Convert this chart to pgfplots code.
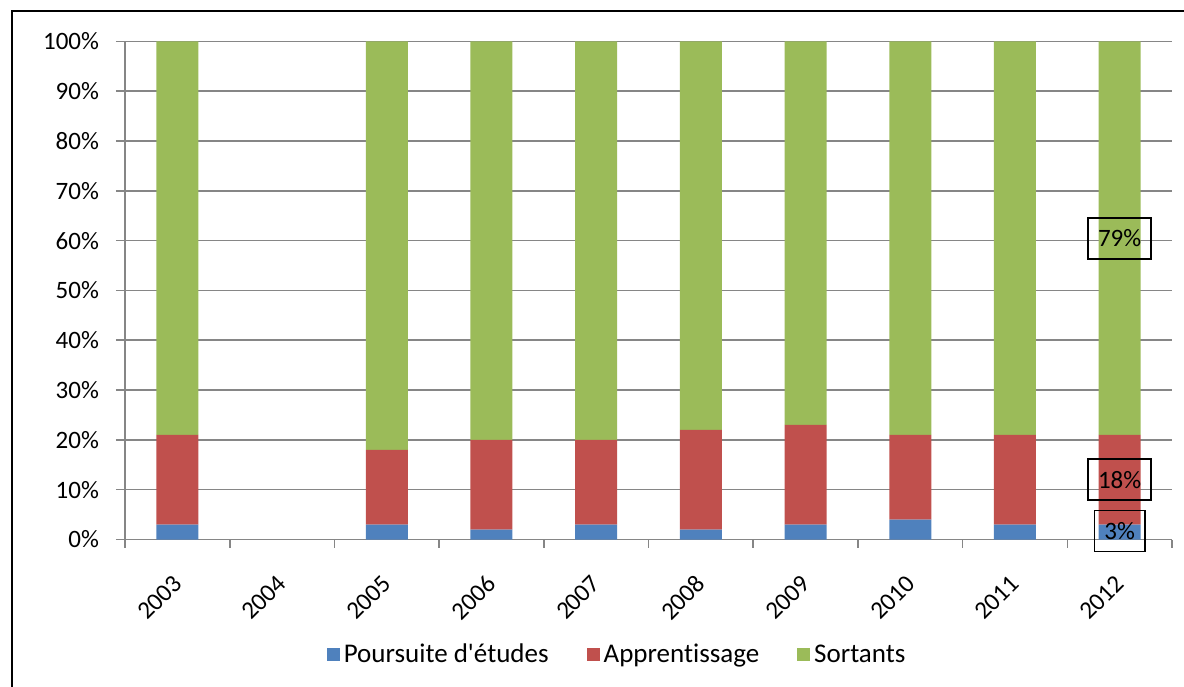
\documentclass[border=0pt]{standalone}
\usepackage{fontspec}
\setmainfont{Carlito}[Ligatures={TeXOff,NoCommon}]
\usepackage{pgfplots}
\pgfplotsset{compat=1.18}
\definecolor{cblue}{HTML}{4F81BD}
\definecolor{cred}{HTML}{C0504D}
\definecolor{cgreen}{HTML}{9BBB59}
\definecolor{cgrid}{HTML}{868686}
\newcommand{\lf}{\fontsize{12.5bp}{15bp}\selectfont}
\newcommand{\lgf}{\fontsize{13.5bp}{16bp}\selectfont}
\begin{document}
\begin{tikzpicture}
\path[use as bounding box] (0,0) rectangle (592bp,343.5bp);
\draw[line width=1bp] (6bp,0bp) -- (6bp,338bp) -- (592bp,338bp);
\begin{axis}[
  at={(62.5bp,73.75bp)}, anchor=south west,
  scale only axis, width=523.5bp, height=249bp,
  ybar stacked, bar width=21bp,
  xmin=-0.5, xmax=9.5, ymin=0, ymax=100,
  clip=false,
  axis x line=bottom, axis y line=left,
  axis line style={-, draw=cgrid, line width=0.8bp},
  xtick={0,...,9},
  xticklabels={2003,2004,2005,2006,2007,2008,2009,2010,2011,2012},
  minor xtick={-0.5,0.5,...,9.5},
  major x tick style={draw=none},
  minor x tick style={draw=cgrid, line width=0.8bp},
  minor tick length=4bp,
  ytick={0,10,...,100},
  yticklabels={0\%,10\%,20\%,30\%,40\%,50\%,60\%,70\%,80\%,90\%,100\%},
  major y tick style={draw=cgrid, line width=0.8bp},
  major tick length=4.5bp,
  tick align=outside,
  ymajorgrids,
  grid style={draw=cgrid, line width=0.8bp},
  yticklabel style={font=\lf, xshift=-5bp},
  xticklabel style={font=\lf, xshift=2.5bp, yshift=-13bp, rotate=45, anchor=east},
  legend style={at={(0.471,-0.232)}, anchor=center, draw=none, font=\lgf,
    legend columns=3, /tikz/every even column/.append style={column sep=17bp}},
  legend cell align=left,
]
\addplot[fill=cblue, draw=none, legend image code/.code={\fill[cblue] (-1.5bp,-3bp) rectangle (5bp,3.5bp);}]
  coordinates {(0,3) (2,3) (3,2) (4,3) (5,2) (6,3) (7,4) (8,3) (9,3)};
\addplot[fill=cred, draw=none, legend image code/.code={\fill[cred] (-1.5bp,-3bp) rectangle (5bp,3.5bp);}]
  coordinates {(0,18) (2,15) (3,18) (4,17) (5,20) (6,20) (7,17) (8,18) (9,18)};
\addplot[fill=cgreen, draw=none, legend image code/.code={\fill[cgreen] (-1.5bp,-3bp) rectangle (5bp,3.5bp);}]
  coordinates {(0,79) (2,82) (3,80) (4,80) (5,78) (6,77) (7,79) (8,79) (9,79)};
\legend{Poursuite d'études,Apprentissage,Sortants}
\coordinate (L79) at (axis cs:9,60.5);
\coordinate (L18) at (axis cs:9,12);
\coordinate (L3) at (axis cs:9,1.7);
\end{axis}
\node[draw, line width=0.9bp, font=\lf, text=black, inner xsep=5bp, minimum height=20.5bp] at (L79) {79\%};
\node[draw, line width=0.9bp, font=\lf, text=black, inner xsep=5bp, minimum height=20.5bp] at (L18) {18\%};
\node[draw, line width=0.9bp, font=\lf, text=black, inner xsep=5bp, minimum height=20.5bp] at (L3) {3\%};
\end{tikzpicture}
\end{document}
